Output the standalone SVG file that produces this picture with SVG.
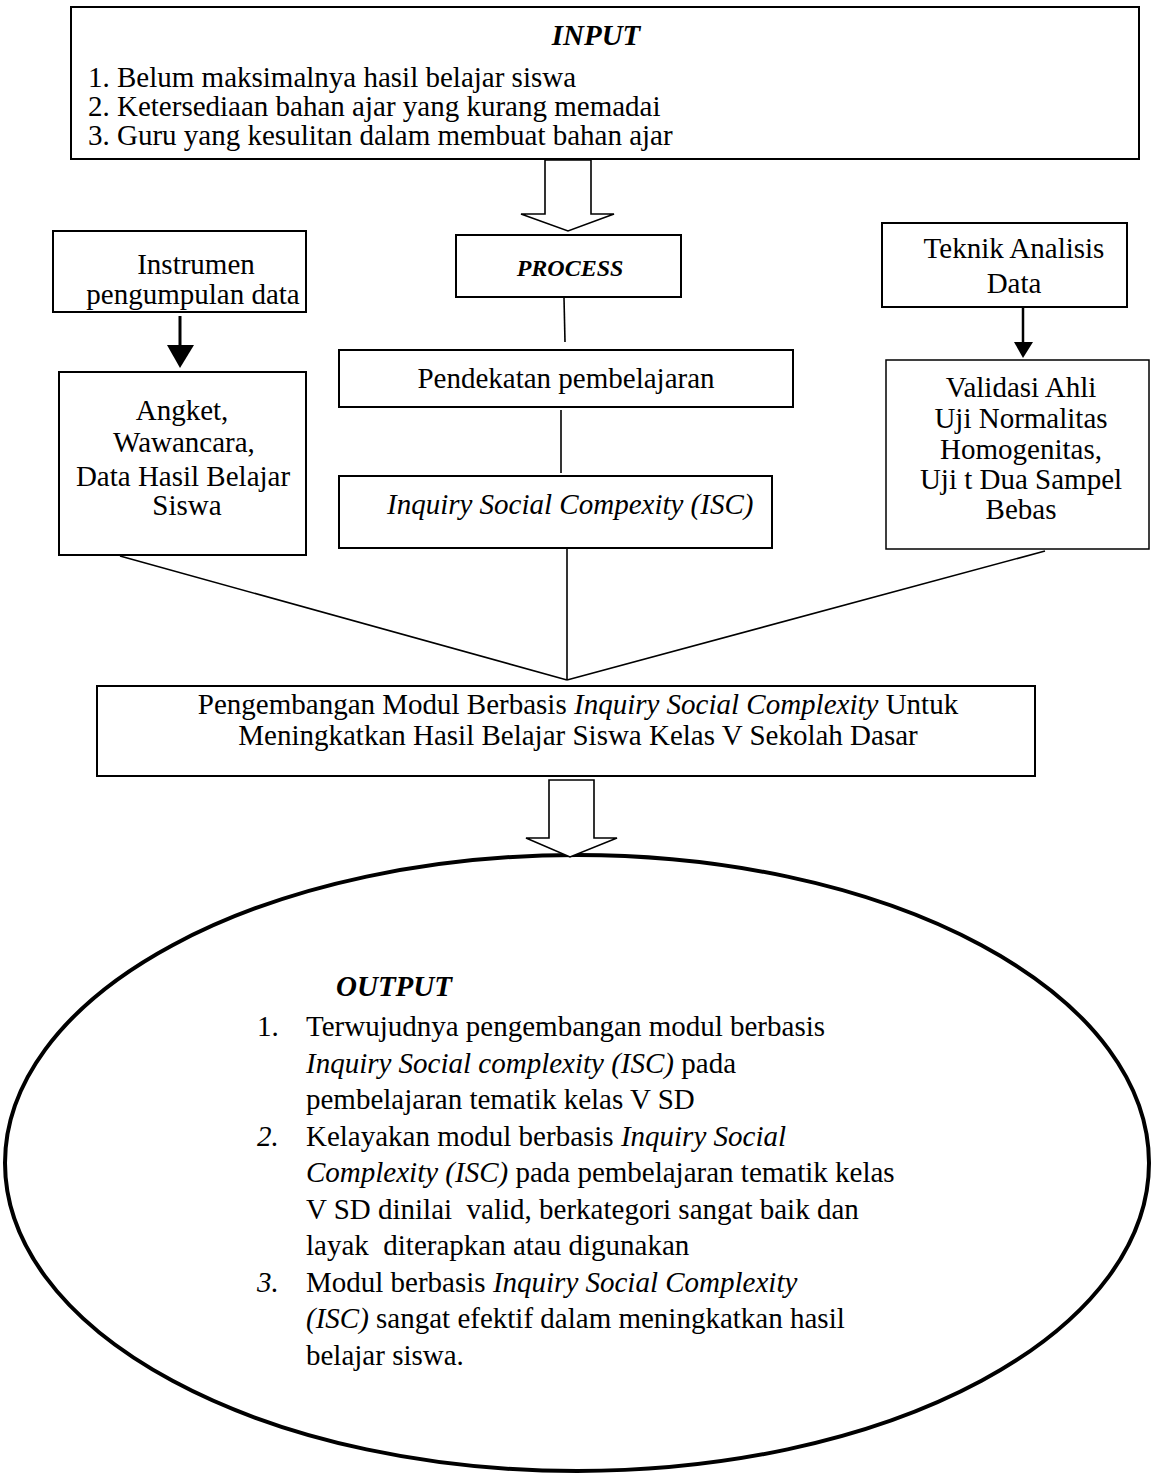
<svg xmlns="http://www.w3.org/2000/svg" width="1154" height="1481" viewBox="0 0 1154 1481">
<style>
.box{fill:#fff;stroke:#000;stroke-width:2}
.ln{stroke:#000;stroke-width:1.6;fill:none}
text{font-family:"Liberation Serif","Times New Roman",serif;font-size:29px;fill:#000}
.c{text-anchor:middle}
.bi{font-weight:bold;font-style:italic}
.i{font-style:italic}
</style>
<rect width="1154" height="1481" fill="#fff"/>
<g id="input">
<rect class="box" x="71" y="7" width="1068" height="152"/>
<text class="c bi" x="596" y="45">INPUT</text>
<text x="88" y="87">1. Belum maksimalnya hasil belajar siswa</text>
<text x="88" y="116">2. Ketersediaan bahan ajar yang kurang memadai</text>
<text x="88" y="145">3. Guru yang kesulitan dalam membuat bahan ajar</text>
</g>
<g id="process">
<rect class="box" x="456" y="235" width="225" height="62"/>
<text class="c bi" x="570" y="276" style="font-size:24px">PROCESS</text>
</g>
<g id="pendekatan">
<rect class="box" x="339" y="350" width="454" height="57"/>
<text class="c" x="566" y="388">Pendekatan pembelajaran</text>
</g>
<g id="isc">
<rect class="box" x="339" y="476" width="433" height="72"/>
<text class="i" x="387" y="514">Inquiry Social Compexity (ISC)</text>
</g>
<g id="instrumen">
<rect class="box" x="53" y="231" width="253" height="81"/>
<text class="c" x="196" y="274">Instrumen</text>
<text class="c" x="193" y="304">pengumpulan data</text>
</g>
<g id="angket">
<rect class="box" x="59" y="372" width="247" height="183"/>
<text class="c" x="182" y="420">Angket,</text>
<text class="c" x="184" y="452">Wawancara,</text>
<text class="c" x="183" y="486">Data Hasil Belajar</text>
<text class="c" x="187" y="515">Siswa</text>
</g>
<g id="teknik">
<rect class="box" x="882" y="223" width="245" height="84"/>
<text class="c" x="1014" y="258">Teknik Analisis</text>
<text class="c" x="1014" y="293">Data</text>
</g>
<g id="validasi">
<rect class="box" x="886" y="360" width="263" height="189" style="stroke-width:1.5"/>
<text class="c" x="1021" y="397">Validasi Ahli</text>
<text class="c" x="1021" y="428">Uji Normalitas</text>
<text class="c" x="1021" y="459">Homogenitas,</text>
<text class="c" x="1021" y="489">Uji t Dua Sampel</text>
<text class="c" x="1021" y="519">Bebas</text>
</g>
<g id="modul">
<rect class="box" x="97" y="686" width="938" height="90"/>
<text class="c" x="578" y="714">Pengembangan Modul Berbasis <tspan class="i">Inquiry Social Complexity</tspan> Untuk</text>
<text class="c" x="578" y="745">Meningkatkan Hasil Belajar Siswa Kelas V Sekolah Dasar</text>
</g>
<g id="output">
<ellipse cx="577" cy="1163" rx="572" ry="308" fill="#fff" stroke="#000" stroke-width="4"/>
<text class="bi" x="336" y="996">OUTPUT</text>
<text x="257" y="1036">1.</text>
<text x="306" y="1036">Terwujudnya pengembangan modul berbasis</text>
<text x="306" y="1072.5"><tspan class="i">Inquiry Social complexity (ISC)</tspan> pada</text>
<text x="306" y="1109">pembelajaran tematik kelas V SD</text>
<text class="i" x="257" y="1145.5">2.</text>
<text x="306" y="1145.5">Kelayakan modul berbasis <tspan class="i">Inquiry Social</tspan></text>
<text x="306" y="1182"><tspan class="i">Complexity (ISC)</tspan> pada pembelajaran tematik kelas</text>
<text x="306" y="1218.5" xml:space="preserve">V SD dinilai  valid, berkategori sangat baik dan</text>
<text x="306" y="1255" xml:space="preserve">layak  diterapkan atau digunakan</text>
<text class="i" x="257" y="1291.5">3.</text>
<text x="306" y="1291.5">Modul berbasis <tspan class="i">Inquiry Social Complexity</tspan></text>
<text x="306" y="1328"><tspan class="i">(ISC)</tspan> sangat efektif dalam meningkatkan hasil</text>
<text x="306" y="1364.5">belajar siswa.</text>
</g>
<g id="connectors">
<polygon points="545,160 545,214 521,214 568,231 614,214 591,214 591,160" fill="#fff" stroke="#000" stroke-width="1.6"/>
<line class="ln" x1="564" y1="298" x2="565" y2="342"/>
<line class="ln" x1="561" y1="410" x2="561" y2="473"/>
<line class="ln" x1="567" y1="549" x2="567" y2="680"/>
<line class="ln" x1="120" y1="556" x2="567" y2="680"/>
<line class="ln" x1="1045" y1="551" x2="567" y2="680"/>
<line x1="180" y1="316" x2="180" y2="346" stroke="#000" stroke-width="3"/>
<polygon points="167,345 194,345 180,368" fill="#000"/>
<line x1="1023" y1="308" x2="1023" y2="343" stroke="#000" stroke-width="2.5"/>
<polygon points="1014,342 1033,342 1023,358" fill="#000"/>
<polygon points="549,780 549,838 526,838 570,857 617,838 594,838 594,780" fill="#fff" stroke="#000" stroke-width="1.6"/>
</g>
</svg>
